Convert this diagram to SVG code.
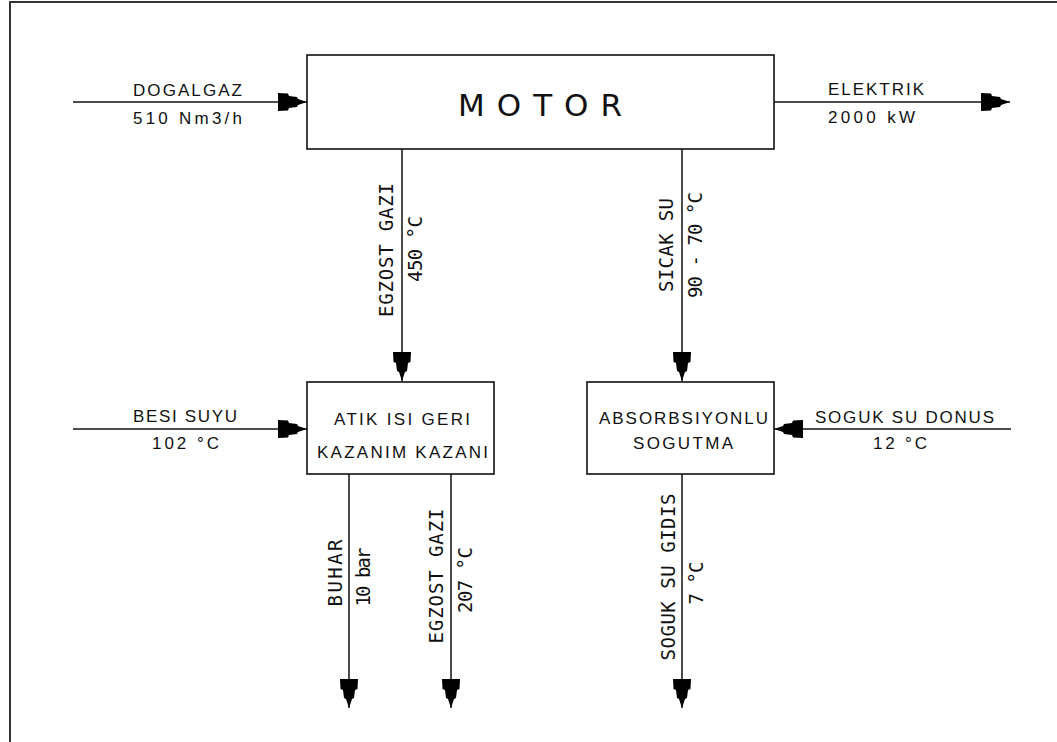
<svg xmlns="http://www.w3.org/2000/svg" width="1057" height="742" viewBox="0 0 1057 742">
<style>
.box{fill:#fff;stroke:#111;stroke-width:1.6}
.ln{fill:none;stroke:#111;stroke-width:1.5;marker-end:url(#ah)}
.ht{font-family:"Liberation Sans",Arial,sans-serif;font-size:17px;fill:#111}
.vt{font-family:"DejaVu Sans Mono",monospace;font-size:19px;fill:#111;text-anchor:middle}
.frame{fill:none;stroke:#333;stroke-width:2}
</style>
<defs>
<marker id="ah" markerUnits="userSpaceOnUse" markerWidth="32" markerHeight="22" viewBox="-30 -11 32 22" refX="0" refY="0" orient="auto">
<path d="M-29,-9 L-19,-8.5 L-18,-6 L-10,-5 L-9,-3 L0,0 L-9,3 L-10,5 L-18,6 L-19,8.5 L-29,9 Z" fill="#000"/>
</marker>
</defs>
<rect width="1057" height="742" fill="#fff"/>
<path class="frame" d="M10,742 V2 H1057"/>
<g id="connectors">
<line class="ln" x1="73" y1="102" x2="307" y2="102"/>
<line class="ln" x1="774" y1="102" x2="1010" y2="102"/>
<line class="ln" x1="402" y1="149" x2="402" y2="381"/>
<line class="ln" x1="682" y1="149" x2="682" y2="381"/>
<line class="ln" x1="73" y1="429" x2="307" y2="429"/>
<line class="ln" x1="1011" y1="429" x2="774" y2="429"/>
<line class="ln" x1="349" y1="474" x2="349" y2="708"/>
<line class="ln" x1="451" y1="474" x2="451" y2="708"/>
<line class="ln" x1="682" y1="474" x2="682" y2="708"/>
<text class="ht" x="133" y="96" textLength="109" lengthAdjust="spacing">DOGALGAZ</text>
<text class="ht" x="133" y="124" textLength="109" lengthAdjust="spacing">510 Nm3/h</text>
<text class="ht" x="828" y="95" textLength="96" lengthAdjust="spacing">ELEKTRIK</text>
<text class="ht" x="828" y="123" textLength="87" lengthAdjust="spacing">2000 kW</text>
<text class="ht" x="133" y="422" textLength="104" lengthAdjust="spacing">BESI SUYU</text>
<text class="ht" x="152" y="449" textLength="67" lengthAdjust="spacing">102 °C</text>
<text class="ht" x="815" y="423" textLength="179" lengthAdjust="spacing">SOGUK SU DONUS</text>
<text class="ht" x="873" y="449" textLength="54" lengthAdjust="spacing">12 °C</text>
<text class="vt" transform="translate(393,250) rotate(-90)" textLength="134" lengthAdjust="spacing">EGZOST GAZI</text>
<text class="vt" transform="translate(422,249) rotate(-90)" textLength="66" lengthAdjust="spacing">450 °C</text>
<text class="vt" transform="translate(673,245) rotate(-90)" textLength="94" lengthAdjust="spacing">SICAK SU</text>
<text class="vt" transform="translate(702,245) rotate(-90)" textLength="106" lengthAdjust="spacing">90 - 70 °C</text>
<text class="vt" transform="translate(342,573) rotate(-90)" textLength="67" lengthAdjust="spacing">BUHAR</text>
<text class="vt" transform="translate(370,577) rotate(-90)" textLength="59" lengthAdjust="spacing">10 bar</text>
<text class="vt" transform="translate(443,576) rotate(-90)" textLength="135" lengthAdjust="spacing">EGZOST GAZI</text>
<text class="vt" transform="translate(472,580) rotate(-90)" textLength="66" lengthAdjust="spacing">207 °C</text>
<text class="vt" transform="translate(675,577) rotate(-90)" textLength="167" lengthAdjust="spacing">SOGUK SU GIDIS</text>
<text class="vt" transform="translate(703,583) rotate(-90)" textLength="43" lengthAdjust="spacing">7 °C</text>
</g>
<g id="motor">
<rect class="box" x="307" y="55" width="467" height="94"/>
<text x="458" y="116" font-family="DejaVu Sans,sans-serif" font-size="31" fill="#111" textLength="164" lengthAdjust="spacing">MOTOR</text>
</g>
<g id="atik">
<rect class="box" x="307" y="382" width="187" height="92"/>
<text class="ht" x="334" y="425" textLength="136" lengthAdjust="spacing">ATIK ISI GERI</text>
<text class="ht" x="317" y="458" textLength="171" lengthAdjust="spacing">KAZANIM KAZANI</text>
</g>
<g id="absorb">
<rect class="box" x="587" y="382" width="187" height="92"/>
<text class="ht" x="599" y="424" textLength="169" lengthAdjust="spacing">ABSORBSIYONLU</text>
<text class="ht" x="633" y="449" textLength="100" lengthAdjust="spacing">SOGUTMA</text>
</g>
</svg>
